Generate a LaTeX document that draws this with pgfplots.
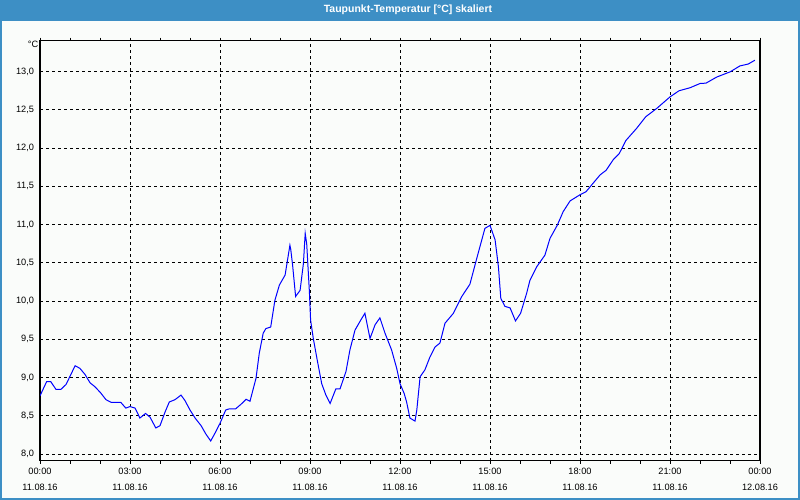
\documentclass[border=0pt]{standalone}
\usepackage{pgfplots}
\pgfplotsset{compat=1.18}
\usepackage{fontspec}
\setmainfont{Liberation Sans}
\definecolor{barblue}{RGB}{61,143,197}
\definecolor{panel}{RGB}{250,252,250}
\begin{document}
\begin{tikzpicture}[x=1pt,y=1pt]
\fill[panel] (0,0) rectangle (800,500);
\fill[barblue] (0,479.3) rectangle (800,500);
\fill[barblue] (0,0) rectangle (1.5,500);
\fill[barblue] (798.3,0) rectangle (800,500);
\fill[barblue] (0,0) rectangle (800,1.5);
\node[text=white,font=\fontsize{10.5}{12}\selectfont\bfseries] at (408,490) {Taupunkt-Temperatur [°C] skaliert};
\node[anchor=east,inner sep=0pt,font=\fontsize{9.2}{11}\selectfont] at (38.5,455.5) {°C};
\begin{axis}[
  at={(40pt,39.3pt)}, anchor=south west,
  scale only axis, width=720pt, height=420pt,
  xmin=0, xmax=24, ymin=7.912, ymax=13.405,
  axis line style={black, line width=1.2pt},
  xtick={0,3,6,9,12,15,18,21,24},
  xticklabels={00:00\\11.08.16,03:00\\11.08.16,06:00\\11.08.16,09:00\\11.08.16,12:00\\11.08.16,15:00\\11.08.16,18:00\\11.08.16,21:00\\11.08.16,00:00\\12.08.16},
  xticklabel style={align=center, font=\fontsize{9.2}{15.5}\selectfont, yshift=-1pt},
  minor xtick={1,2,4,5,7,8,10,11,13,14,16,17,19,20,22,23},
  ytick={8,8.5,...,13},
  yticklabel style={font=\fontsize{9.2}{11}\selectfont, xshift=0.5pt},
  /pgf/number format/.cd, use comma, fixed, fixed zerofill, precision=1, assume math mode=true,
  /pgfplots/.cd,
  tick align=outside,
  major tick length=3pt, minor tick length=3pt,
  tick style={black, line width=0.8pt},
  ytick style={draw=none},
  xmajorgrids, ymajorgrids,
  major grid style={black, line width=0.9pt, dash pattern=on 3pt off 3pt},
  clip=true,
]
\addplot[color={rgb,255:red,0;green,0;blue,255}, line width=1pt] coordinates {
(0.00,8.76) (0.22,8.945) (0.36,8.945) (0.53,8.846) (0.70,8.846) (0.87,8.91)
(1.17,9.154) (1.33,9.12) (1.50,9.04) (1.67,8.93) (1.83,8.88) (2.02,8.80)
(2.20,8.71) (2.37,8.676) (2.69,8.676) (2.86,8.60) (3.00,8.62) (3.17,8.60)
(3.33,8.47) (3.52,8.53) (3.67,8.48) (3.86,8.34) (4.00,8.37) (4.17,8.55)
(4.31,8.68) (4.50,8.71) (4.70,8.77) (4.83,8.70) (5.00,8.575) (5.17,8.47)
(5.37,8.37) (5.53,8.26) (5.69,8.17) (5.83,8.27) (6.00,8.40) (6.19,8.575)
(6.31,8.59) (6.52,8.59) (6.70,8.65) (6.87,8.715) (7.00,8.69) (7.20,8.99)
(7.31,9.32) (7.44,9.58) (7.53,9.64) (7.69,9.66) (7.83,10.01) (7.98,10.21)
(8.17,10.34) (8.33,10.73) (8.36,10.67) (8.42,10.47) (8.52,10.06) (8.67,10.14)
(8.78,10.49) (8.84,10.885) (8.89,10.75) (8.98,10.12) (9.02,9.75) (9.11,9.51)
(9.24,9.23) (9.39,8.92) (9.53,8.77) (9.67,8.66) (9.86,8.85) (10.00,8.85)
(10.20,9.08) (10.33,9.36) (10.50,9.62) (10.69,9.75) (10.83,9.84) (11.00,9.51)
(11.17,9.69) (11.33,9.78) (11.50,9.58) (11.72,9.36) (11.89,9.12) (12.00,8.92)
(12.14,8.79) (12.22,8.68) (12.33,8.47) (12.50,8.43) (12.56,8.575) (12.67,9.01)
(12.83,9.10) (13.00,9.27) (13.17,9.40) (13.33,9.45) (13.50,9.71) (13.78,9.84)
(14.06,10.06) (14.33,10.22) (14.56,10.56) (14.83,10.95) (15.00,10.99) (15.17,10.80)
(15.28,10.45) (15.36,10.035) (15.50,9.93) (15.67,9.91) (15.85,9.74) (16.02,9.84)
(16.22,10.10) (16.33,10.27) (16.56,10.45) (16.83,10.60) (17.00,10.82) (17.24,10.99)
(17.44,11.17) (17.67,11.31) (18.00,11.39) (18.20,11.43) (18.67,11.65) (18.87,11.71)
(19.11,11.85) (19.31,11.93) (19.53,12.10) (19.89,12.26) (20.19,12.41) (20.56,12.52)
(21.00,12.67) (21.30,12.75) (21.67,12.79) (22.00,12.845) (22.20,12.85) (22.56,12.93)
(23.00,12.997) (23.33,13.075) (23.61,13.10) (23.83,13.15)
};
\end{axis}
\end{tikzpicture}
\end{document}
